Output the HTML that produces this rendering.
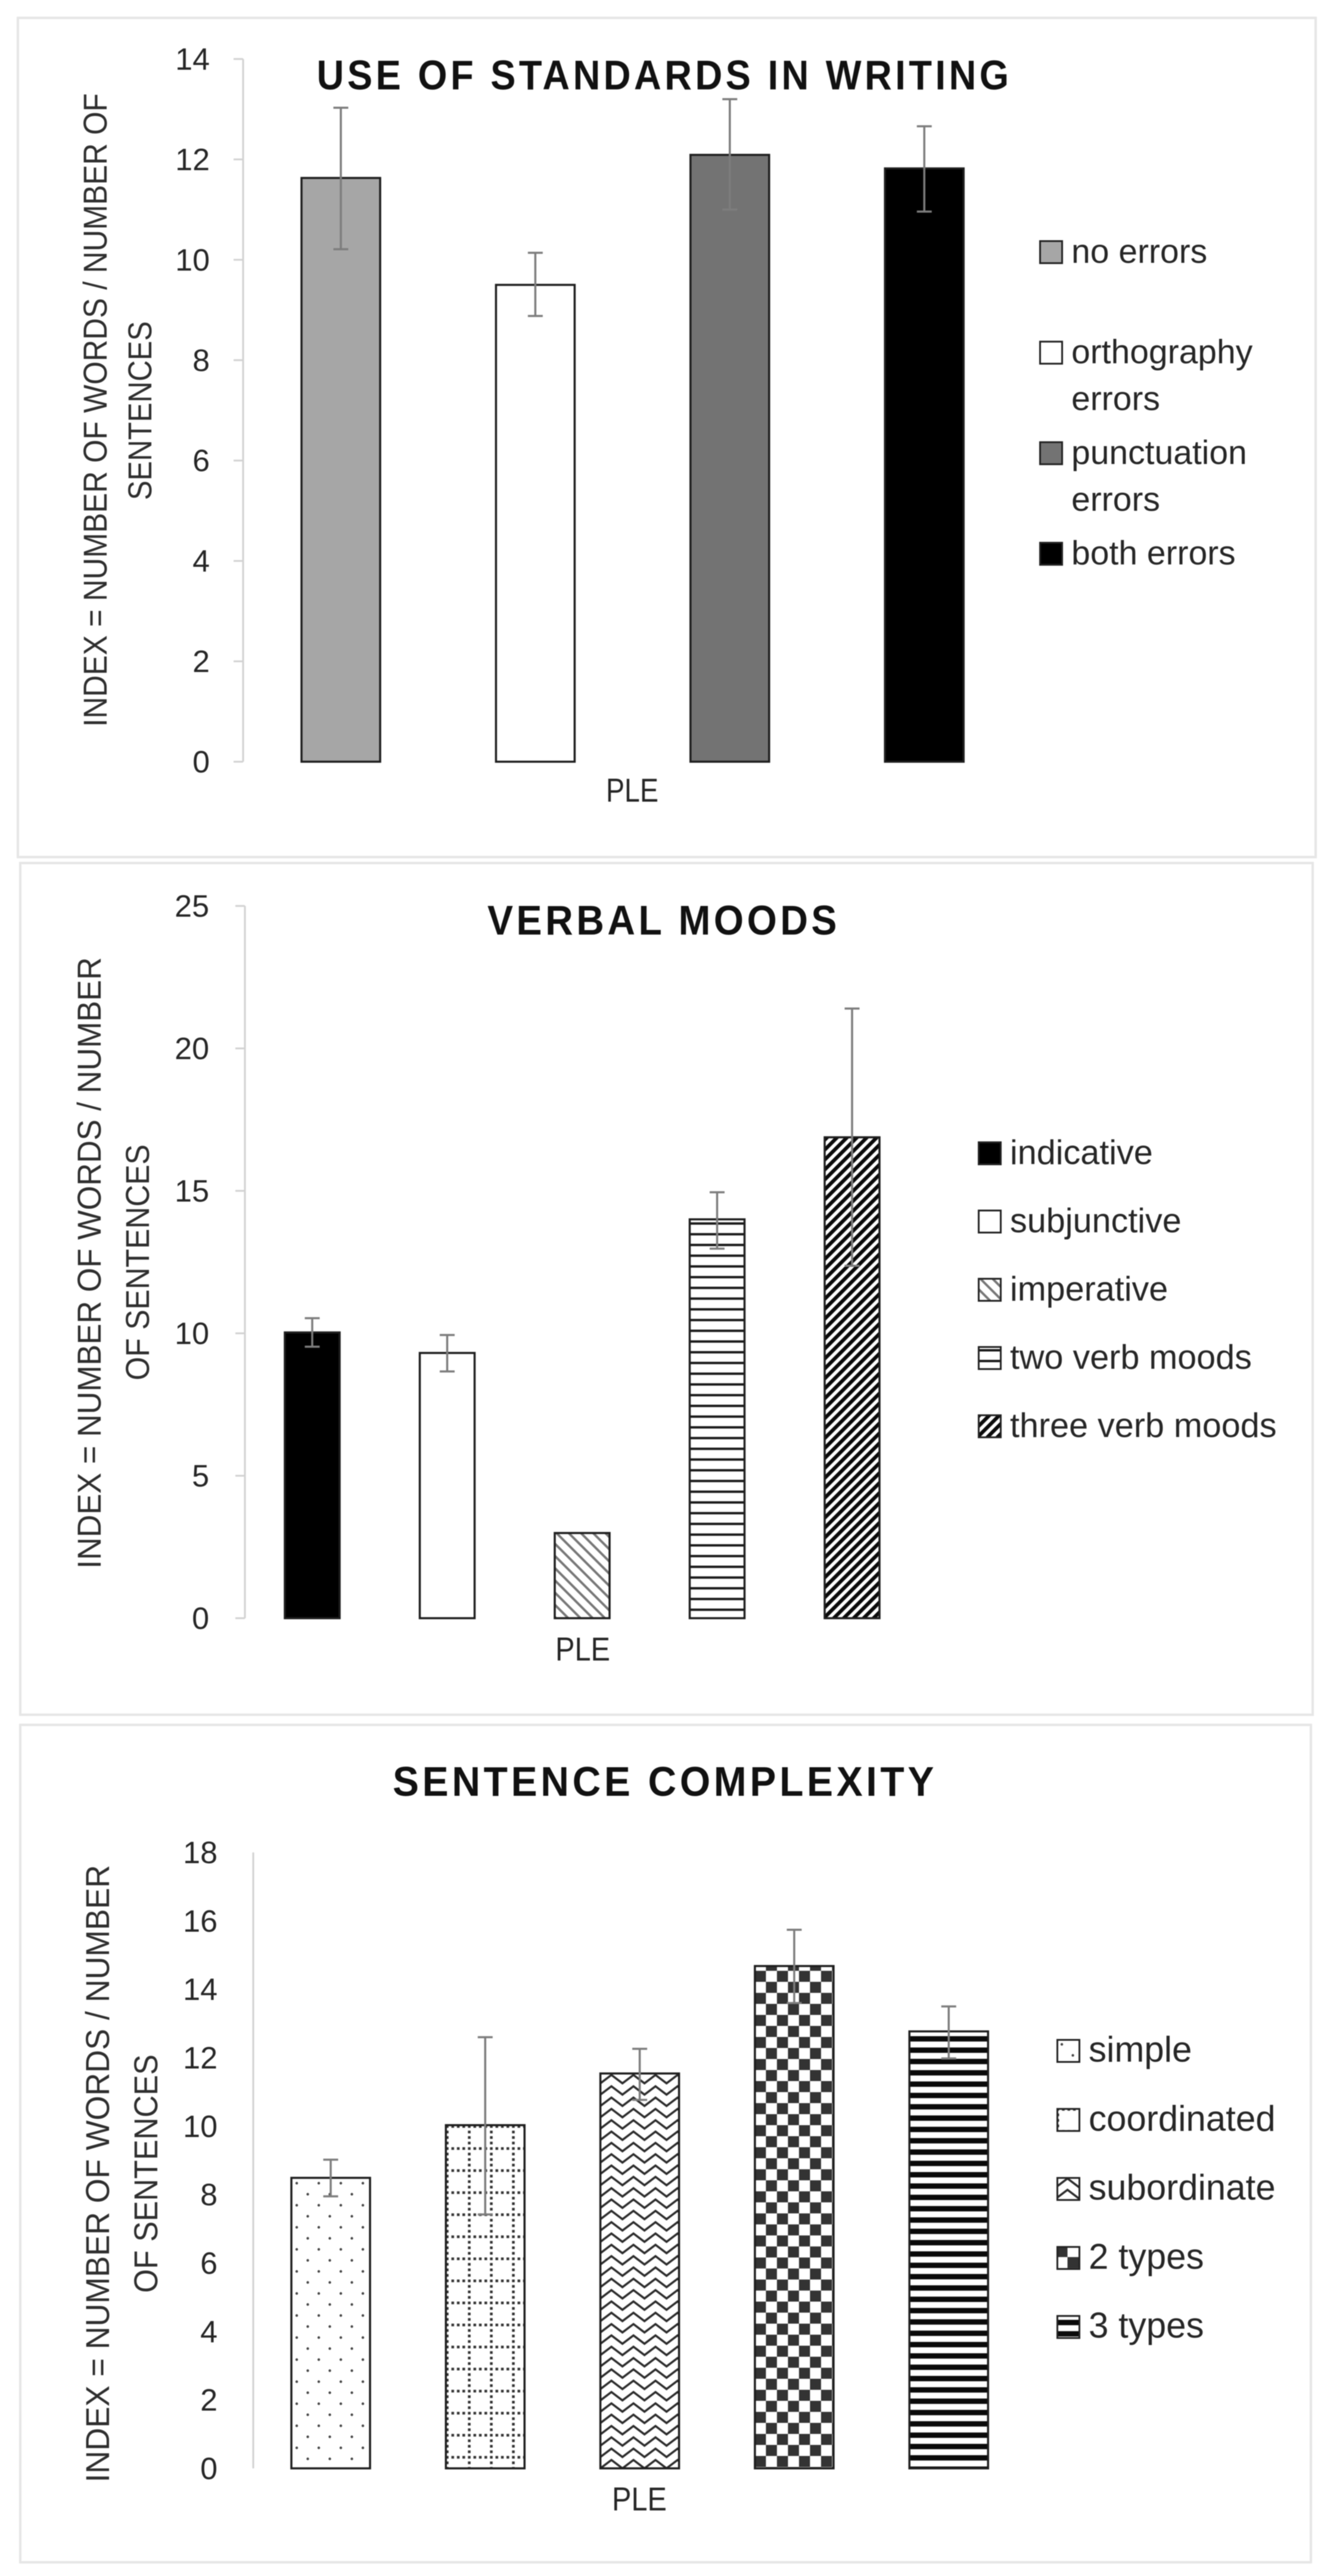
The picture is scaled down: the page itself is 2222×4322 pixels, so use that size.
<!DOCTYPE html>
<html lang="en">
<head>
<meta charset="utf-8">
<title>Writing index charts</title>
<style>
html,body{margin:0;padding:0;background:#fff;}
svg{display:block;filter:blur(0.8px);}
text{font-family:"Liberation Sans",sans-serif;fill:#262626;}
.title{font-weight:bold;font-size:70px;fill:#111;letter-spacing:6px;text-anchor:middle;}
.ytitle{font-size:56px;fill:#2e2e2e;text-anchor:middle;}
.xlabel{font-size:56px;text-anchor:middle;}
.tick{font-size:52px;text-anchor:end;}
</style>
</head>
<body>
<svg id="root" xmlns="http://www.w3.org/2000/svg" width="2222" height="4322" viewBox="0 0 2222 4322">
  <defs id="defs"></defs>
  <rect width="2222" height="4322" fill="#fff"/>

  <g id="chart-standards">
    <rect x="30" y="30" width="2178" height="1408" fill="#fff" stroke="#e6e6e6" stroke-width="4"/>
    <text class="ytitle" transform="translate(179,688) rotate(-90)" textLength="1063" lengthAdjust="spacingAndGlyphs">INDEX = NUMBER OF WORDS / NUMBER OF</text>
    <text class="ytitle" transform="translate(254,689) rotate(-90)" textLength="300" lengthAdjust="spacingAndGlyphs">SENTENCES</text>
    <text class="xlabel" x="1061" y="1345" textLength="88" lengthAdjust="spacingAndGlyphs">PLE</text>
  </g>

  <g id="chart-moods">
    <rect x="34" y="1448" width="2169" height="1429" fill="#fff" stroke="#e6e6e6" stroke-width="4"/>
    <text class="title" x="1114" y="1568" textLength="592" lengthAdjust="spacingAndGlyphs">VERBAL MOODS</text>
    <text class="ytitle" transform="translate(169,2119) rotate(-90)" textLength="1026" lengthAdjust="spacingAndGlyphs">INDEX = NUMBER OF WORDS / NUMBER</text>
    <text class="ytitle" transform="translate(250,2118) rotate(-90)" textLength="396" lengthAdjust="spacingAndGlyphs">OF SENTENCES</text>
    <text class="xlabel" x="978" y="2786" textLength="92" lengthAdjust="spacingAndGlyphs">PLE</text>
  </g>

  <g id="chart-complexity">
    <rect x="34" y="2894" width="2166" height="1405" fill="#fff" stroke="#e6e6e6" stroke-width="4"/>
    <text class="title" x="1116" y="3013" textLength="914" lengthAdjust="spacingAndGlyphs">SENTENCE COMPLEXITY</text>
    <text class="ytitle" transform="translate(183,3647) rotate(-90)" textLength="1036" lengthAdjust="spacingAndGlyphs">INDEX = NUMBER OF WORDS / NUMBER</text>
    <text class="ytitle" transform="translate(264,3647) rotate(-90)" textLength="400" lengthAdjust="spacingAndGlyphs">OF SENTENCES</text>
    <text class="xlabel" x="1073" y="4212" textLength="92" lengthAdjust="spacingAndGlyphs">PLE</text>
  </g>
</svg>

<script>
// Chart 1: use of standards in writing
var standardsCategories = ['no errors', 'orthography errors', 'punctuation errors', 'both errors'];
var standardsValues = [11.63, 9.5, 12.09, 11.82];
var standardsErrHigh = [13.03, 10.14, 13.2, 12.66];
var standardsErrLow = [10.21, 8.88, 11.0, 10.96];
var standardsTicks = [0, 2, 4, 6, 8, 10, 12, 14];
var standardsFills = ['#a6a6a6', '#ffffff', '#737373', '#000000'];

// Chart 2: verbal moods
var moodsCategories = ['indicative', 'subjunctive', 'imperative', 'two verb moods', 'three verb moods'];
var moodsValues = [10.03, 9.31, 2.99, 14.0, 16.88];
var moodsErrHigh = [10.53, 9.94, null, 14.95, 21.4];
var moodsErrLow = [9.53, 8.66, null, 12.97, 12.37];
var moodsTicks = [0, 5, 10, 15, 20, 25];
var moodsFills = ['#000000', '#ffffff', 'backdiag', 'hlines', 'fwddiag'];

// Chart 3: sentence complexity
var complexityCategories = ['simple', 'coordinated', 'subordinate', '2 types', '3 types'];
var complexityValues = [8.49, 10.03, 11.54, 14.68, 12.77];
var complexityErrHigh = [9.02, 12.6, 12.26, 15.74, 13.5];
var complexityErrLow = [7.95, 7.42, 10.77, 13.6, 11.98];
var complexityTicks = [0, 2, 4, 6, 8, 10, 12, 14, 16, 18];
var complexityFills = ['dots', 'grid', 'zigzag', 'checker', 'hbands'];

var SVGNS = 'http://www.w3.org/2000/svg';
var defs = document.getElementById('defs');
var patternCount = 0;

function make(tag, attrs, parent) {
  var node = document.createElementNS(SVGNS, tag);
  for (var k in attrs) { node.setAttribute(k, attrs[k]); }
  if (parent) { parent.appendChild(node); }
  return node;
}

function makePattern(kind, ox, oy) {
  var id = 'pat' + (patternCount++);
  var spec = {
    dots: [37, 37, ''],
    grid: [37, 37, ''],
    zigzag: [37, 19, ''],
    checker: [37, 37, ''],
    hbands: [19, 19, ''],
    hlines: [18, 18, ''],
    backdiag: [14.5, 14.5, ' rotate(-45)'],
    fwddiag: [11.8, 11.8, ' rotate(45)']
  }[kind];
  var p = make('pattern', {
    id: id,
    patternUnits: 'userSpaceOnUse',
    width: spec[0],
    height: spec[1],
    patternTransform: 'translate(' + ox + ',' + oy + ')' + spec[2]
  }, defs);
  make('rect', { width: spec[0], height: spec[1], fill: '#fff' }, p);
  if (kind === 'dots') {
    make('circle', { cx: 9, cy: 9, r: 2.2, fill: '#444' }, p);
    make('circle', { cx: 27.5, cy: 27.5, r: 2.2, fill: '#444' }, p);
  } else if (kind === 'grid') {
    for (var i = 0; i < 4; i++) {
      make('rect', { x: 0, y: i * 9.25, width: 4.5, height: 4.5, fill: '#333' }, p);
      make('rect', { x: i * 9.25, y: 0, width: 4.5, height: 4.5, fill: '#333' }, p);
    }
  } else if (kind === 'zigzag') {
    make('polyline', { points: '-18.5,2.5 0,16.5 18.5,2.5 37,16.5 55.5,2.5', fill: 'none', stroke: '#2a2a2a', 'stroke-width': 3.5 }, p);
  } else if (kind === 'checker') {
    make('rect', { x: 0, y: 0, width: 18.5, height: 18.5, fill: '#333' }, p);
    make('rect', { x: 18.5, y: 18.5, width: 18.5, height: 18.5, fill: '#333' }, p);
  } else if (kind === 'hbands') {
    make('rect', { x: 0, y: 8, width: 19, height: 9, fill: '#0a0a0a' }, p);
  } else if (kind === 'hlines') {
    make('rect', { x: 0, y: 5, width: 18, height: 4, fill: '#1a1a1a' }, p);
  } else if (kind === 'backdiag') {
    make('rect', { x: 0, y: 0, width: 4, height: 14.5, fill: '#777' }, p);
  } else if (kind === 'fwddiag') {
    make('rect', { x: 0, y: 0, width: 6.2, height: 11.8, fill: '#0a0a0a' }, p);
  }
  return 'url(#' + id + ')';
}

function resolveFill(fill, ox, oy) {
  return fill.charAt(0) === '#' ? fill : makePattern(fill, ox, oy);
}

function drawChart(c) {
  var g = document.getElementById(c.groupId);
  var maxTick = c.ticks[c.ticks.length - 1];
  function yScale(v) { return c.y0 - v * (c.y0 - c.yTop) / maxTick; }
  function xScale(i) { return c.x0 + i * c.step; }

  var axis = make('line', { x1: c.axisX, x2: c.axisX, y1: yScale(maxTick), y2: c.y0, stroke: '#d2d2d2', 'stroke-width': 3 }, g);
  
  

  c.ticks.forEach(function (t) {
    if (c.tickMarks) {
      var mark = make('line', { x1: c.axisX - 16, x2: c.axisX, y1: yScale(t), y2: yScale(t), stroke: '#d2d2d2', 'stroke-width': 3 }, g);
      
      
    }
    var label = make('text', { 'class': 'tick', x: c.tickX, y: yScale(t) + 18 }, g);
    label.textContent = String(t);
    
    
  });

  c.values.forEach(function (v, i) {
    var cx = xScale(i);
    var top = yScale(v);
    var left = cx - c.barWidth / 2;
    var fill = resolveFill(c.fills[i], left, top + (c.fills[i] === 'checker' ? 8 : 0));
    var bar = make('rect', { x: left, y: top, width: c.barWidth, height: c.y0 - top, fill: fill, stroke: '#1e1e1e', 'stroke-width': 3.5 }, g);
    
    

    if (c.errHigh[i] !== null && c.errLow[i] !== null) {
      var hi = yScale(c.errHigh[i]);
      var lo = yScale(c.errLow[i]);
      var err = make('path', {
        d: 'M' + cx + ' ' + hi + 'V' + lo + 'M' + (cx - 12.5) + ' ' + hi + 'H' + (cx + 12.5) + 'M' + (cx - 12.5) + ' ' + lo + 'H' + (cx + 12.5),
        fill: 'none', stroke: '#7d7d7d', 'stroke-width': 3.5
      }, g);
      
      
    }

    var ly = c.legendY + i * c.legendStep;
    var swatchFill = resolveFill(c.fills[i], c.legendX, ly - 20);
    var swatch = make('rect', { x: c.legendX + 1.5, y: ly - 18.5, width: 37, height: 37, fill: swatchFill, stroke: '#222', 'stroke-width': 3 }, g);
    
    

    var lines = c.wrappedLegend.indexOf(i) >= 0 ? c.categories[i].split(' ') : [c.categories[i]];
    lines.forEach(function (line, n) {
      var txt = make('text', { x: c.legendX + 54, y: ly + 18 + n * 78.5, 'font-size': c.legendFont }, g);
      txt.textContent = line;
      
      
    });
  });
}

drawChart({
  groupId: 'chart-standards', prefix: 'standards',
  categories: standardsCategories, values: standardsValues, errHigh: standardsErrHigh, errLow: standardsErrLow,
  ticks: standardsTicks, fills: standardsFills,
  axisX: 408, tickX: 352, tickMarks: true, yTop: 99, y0: 1278,
  x0: 572, step: 326.4, barWidth: 132,
  legendX: 1744, legendY: 423, legendStep: 168.7, wrappedLegend: [1, 2], legendFont: 57
});

drawChart({
  groupId: 'chart-moods', prefix: 'moods',
  categories: moodsCategories, values: moodsValues, errHigh: moodsErrHigh, errLow: moodsErrLow,
  ticks: moodsTicks, fills: moodsFills,
  axisX: 411, tickX: 351, tickMarks: true, yTop: 1520, y0: 2715,
  x0: 524, step: 226.5, barWidth: 92,
  legendX: 1641, legendY: 1935, legendStep: 114.5, wrappedLegend: [], legendFont: 57.5
});

drawChart({
  groupId: 'chart-complexity', prefix: 'complexity',
  categories: complexityCategories, values: complexityValues, errHigh: complexityErrHigh, errLow: complexityErrLow,
  ticks: complexityTicks, fills: complexityFills,
  axisX: 425, tickX: 365, tickMarks: false, yTop: 3108, y0: 4141.4,
  x0: 555, step: 259.3, barWidth: 132,
  legendX: 1773, legendY: 3441, legendStep: 115.8, wrappedLegend: [], legendFont: 60
});

// Title sits on top of the error bars in the first chart
var standardsTitle = make('text', { 'class': 'title', x: 1115, y: 150, textLength: 1167, lengthAdjust: 'spacingAndGlyphs' }, document.getElementById('chart-standards'));
standardsTitle.textContent = 'USE OF STANDARDS IN WRITING';


</script>
</body>
</html>
